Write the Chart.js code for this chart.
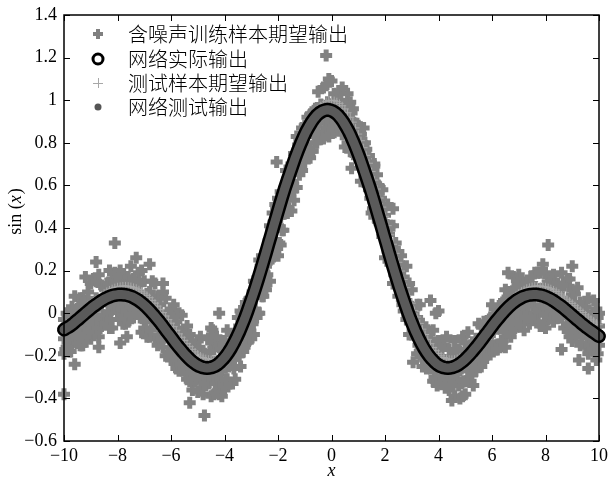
<!DOCTYPE html>
<html>
<head>
<meta charset="utf-8">
<script src="https://cdn.jsdelivr.net/npm/chart.js@4.4.1/dist/chart.umd.min.js"></script>
<style>
  html, body { margin: 0; padding: 0; background: #fff; }
</style>
</head>
<body>
<canvas id="myChart" width="610" height="481"></canvas>
<script>
// series labels (legend order)
const seriesLabels = ['含噪声训练样本期望输出', '网络实际输出', '测试样本期望输出', '网络测试输出'];

// tick values
const xTicks = [-10, -8, -6, -4, -2, 0, 2, 4, 6, 8, 10];
const yTicks = [-0.6, -0.4, -0.2, 0, 0.2, 0.4, 0.6, 0.8, 1, 1.2, 1.4];

// sample inputs, step 0.1
const xs = [
  -10,-9.9,-9.8,-9.7,-9.6,-9.5,-9.4,-9.3,-9.2,-9.1,
  -9,-8.9,-8.8,-8.7,-8.6,-8.5,-8.4,-8.3,-8.2,-8.1,
  -8,-7.9,-7.8,-7.7,-7.6,-7.5,-7.4,-7.3,-7.2,-7.1,
  -7,-6.9,-6.8,-6.7,-6.6,-6.5,-6.4,-6.3,-6.2,-6.1,
  -6,-5.9,-5.8,-5.7,-5.6,-5.5,-5.4,-5.3,-5.2,-5.1,
  -5,-4.9,-4.8,-4.7,-4.6,-4.5,-4.4,-4.3,-4.2,-4.1,
  -4,-3.9,-3.8,-3.7,-3.6,-3.5,-3.4,-3.3,-3.2,-3.1,
  -3,-2.9,-2.8,-2.7,-2.6,-2.5,-2.4,-2.3,-2.2,-2.1,
  -2,-1.9,-1.8,-1.7,-1.6,-1.5,-1.4,-1.3,-1.2,-1.1,
  -1,-0.9,-0.8,-0.7,-0.6,-0.5,-0.4,-0.3,-0.2,-0.1,
  0,
  0.1,0.2,0.3,0.4,0.5,0.6,0.7,0.8,0.9,1,
  1.1,1.2,1.3,1.4,1.5,1.6,1.7,1.8,1.9,2,
  2.1,2.2,2.3,2.4,2.5,2.6,2.7,2.8,2.9,3,
  3.1,3.2,3.3,3.4,3.5,3.6,3.7,3.8,3.9,4,
  4.1,4.2,4.3,4.4,4.5,4.6,4.7,4.8,4.9,5,
  5.1,5.2,5.3,5.4,5.5,5.6,5.7,5.8,5.9,6,
  6.1,6.2,6.3,6.4,6.5,6.6,6.7,6.8,6.9,7,
  7.1,7.2,7.3,7.4,7.5,7.6,7.7,7.8,7.9,8,
  8.1,8.2,8.3,8.4,8.5,8.6,8.7,8.8,8.9,9,
  9.1,9.2,9.3,9.4,9.5,9.6,9.7,9.8,9.9,10
];

// noisy training targets (three samples per input)
const trainHi = [
  -0.03,0.00,-0.02,0.03,0.08,0.02,0.07,0.07,0.06,0.10,
  0.14,0.16,0.15,0.18,0.13,0.12,0.14,0.20,0.16,0.19,
  0.15,0.20,0.18,0.17,0.17,0.22,0.16,0.15,0.19,0.20,
  0.15,0.09,0.10,0.15,0.14,0.08,0.04,0.10,0.07,-0.01,
  0.02,0.04,-0.04,0.00,-0.01,-0.09,-0.06,-0.10,-0.15,-0.17,
  -0.13,-0.11,-0.18,-0.20,-0.12,-0.14,-0.17,-0.11,-0.16,-0.15,
  -0.13,-0.08,-0.13,-0.10,-0.11,-0.02,0.01,-0.03,0.05,0.06,
  0.06,0.15,0.15,0.25,0.27,0.27,0.29,0.41,0.47,0.51,
  0.54,0.57,0.57,0.67,0.63,0.70,0.75,0.83,0.81,0.87,
  0.88,0.92,0.93,0.94,0.96,1.04,0.98,1.06,1.07,1.10,
  1.09,1.03,1.01,1.04,1.06,0.97,1.03,0.99,0.96,0.89,
  0.88,0.84,0.87,0.77,0.74,0.67,0.69,0.65,0.59,0.58,
  0.46,0.51,0.41,0.41,0.33,0.29,0.27,0.17,0.22,0.14,
  0.11,0.02,0.04,0.04,-0.05,-0.07,-0.08,-0.12,-0.08,-0.15,
  -0.13,-0.16,-0.15,-0.11,-0.17,-0.21,-0.13,-0.19,-0.18,-0.11,
  -0.14,-0.09,-0.15,-0.14,-0.12,-0.05,-0.06,-0.04,-0.07,-0.03,
  0.04,0.02,0.01,0.01,0.05,0.11,0.06,0.08,0.17,0.12,
  0.18,0.16,0.14,0.14,0.14,0.14,0.19,0.19,0.19,0.23,
  0.19,0.17,0.16,0.18,0.13,0.12,0.19,0.13,0.16,0.16,
  0.11,0.09,0.12,0.05,0.01,0.03,0.07,-0.01,0.06,0.02,
  0.00
];
const trainMid = [
  -0.12,-0.06,-0.12,-0.05,-0.10,-0.02,-0.08,-0.01,-0.06,0.00,
  0.00,-0.03,0.07,0.04,0.04,0.07,0.07,0.06,0.08,0.06,
  0.12,0.11,0.05,0.06,0.09,0.06,0.11,0.09,0.06,0.08,
  0.03,0.02,0.05,0.02,-0.04,-0.04,-0.05,-0.05,-0.08,-0.05,
  -0.09,-0.13,-0.08,-0.19,-0.14,-0.19,-0.23,-0.25,-0.26,-0.23,
  -0.28,-0.25,-0.28,-0.25,-0.31,-0.28,-0.28,-0.30,-0.27,-0.27,
  -0.25,-0.20,-0.23,-0.21,-0.14,-0.14,-0.08,-0.12,-0.08,-0.05,
  0.02,0.08,0.09,0.11,0.17,0.19,0.24,0.25,0.32,0.32,
  0.41,0.45,0.47,0.57,0.59,0.58,0.68,0.73,0.71,0.73,
  0.79,0.85,0.85,0.91,0.88,0.90,0.93,0.97,0.92,0.96,
  0.98,0.93,0.95,0.93,0.91,0.93,0.85,0.91,0.81,0.84,
  0.82,0.81,0.78,0.71,0.70,0.61,0.53,0.49,0.52,0.49,
  0.37,0.40,0.30,0.28,0.27,0.21,0.15,0.07,0.06,0.02,
  0.03,-0.08,-0.02,-0.09,-0.11,-0.15,-0.19,-0.16,-0.25,-0.18,
  -0.19,-0.23,-0.24,-0.25,-0.24,-0.31,-0.27,-0.23,-0.27,-0.20,
  -0.24,-0.27,-0.22,-0.22,-0.17,-0.13,-0.18,-0.13,-0.16,-0.07,
  -0.08,-0.05,-0.04,-0.02,-0.06,-0.03,0.03,-0.01,-0.02,0.04,
  0.06,0.06,0.02,0.12,0.05,0.07,0.10,0.11,0.10,0.10,
  0.04,0.10,0.02,0.03,0.02,0.09,0.02,0.03,0.04,0.05,
  -0.04,-0.01,0.00,-0.04,-0.01,-0.01,-0.03,-0.12,-0.04,-0.06,
  -0.06
];
const trainLo = [
  -0.19,-0.16,-0.18,-0.15,-0.13,-0.14,-0.15,-0.15,-0.10,-0.09,
  -0.12,-0.07,-0.03,-0.11,-0.06,-0.01,-0.04,-0.07,-0.07,0.02,
  0.01,-0.03,-0.05,-0.05,-0.04,0.01,-0.02,0.00,0.01,-0.09,
  -0.07,-0.11,-0.11,-0.04,-0.12,-0.15,-0.13,-0.16,-0.20,-0.19,
  -0.22,-0.17,-0.26,-0.27,-0.26,-0.26,-0.31,-0.32,-0.36,-0.32,
  -0.37,-0.30,-0.38,-0.34,-0.33,-0.39,-0.38,-0.37,-0.38,-0.39,
  -0.36,-0.31,-0.33,-0.33,-0.31,-0.20,-0.25,-0.18,-0.14,-0.13,
  -0.12,-0.10,-0.02,0.00,0.08,0.13,0.18,0.15,0.27,0.28,
  0.27,0.32,0.39,0.48,0.49,0.48,0.53,0.59,0.65,0.67,
  0.71,0.75,0.73,0.76,0.80,0.85,0.82,0.82,0.87,0.83,
  0.87,0.85,0.89,0.88,0.84,0.78,0.80,0.76,0.78,0.74,
  0.74,0.62,0.67,0.62,0.58,0.47,0.45,0.48,0.42,0.36,
  0.26,0.29,0.23,0.14,0.15,0.08,0.10,0.01,-0.03,-0.10,
  -0.10,-0.09,-0.19,-0.18,-0.25,-0.22,-0.23,-0.26,-0.32,-0.32,
  -0.33,-0.31,-0.33,-0.32,-0.36,-0.41,-0.39,-0.31,-0.40,-0.39,
  -0.38,-0.31,-0.32,-0.34,-0.27,-0.24,-0.25,-0.21,-0.21,-0.18,
  -0.17,-0.15,-0.17,-0.16,-0.13,-0.16,-0.07,-0.11,-0.08,-0.02,
  -0.06,-0.05,-0.08,0.00,-0.05,-0.02,-0.02,-0.04,-0.06,-0.06,
  -0.07,-0.03,0.01,-0.04,0.00,-0.02,-0.02,-0.07,-0.05,-0.11,
  -0.13,-0.08,-0.08,-0.15,-0.10,-0.16,-0.19,-0.14,-0.18,-0.22,
  -0.15
];

// more training inputs, between the ones above
const xsMid = [
  -9.95,-9.85,-9.75,-9.65,-9.55,-9.45,-9.35,-9.25,-9.15,-9.05,
  -8.95,-8.85,-8.75,-8.65,-8.55,-8.45,-8.35,-8.25,-8.15,-8.05,
  -7.95,-7.85,-7.75,-7.65,-7.55,-7.45,-7.35,-7.25,-7.15,-7.05,
  -6.95,-6.85,-6.75,-6.65,-6.55,-6.45,-6.35,-6.25,-6.15,-6.05,
  -5.95,-5.85,-5.75,-5.65,-5.55,-5.45,-5.35,-5.25,-5.15,-5.05,
  -4.95,-4.85,-4.75,-4.65,-4.55,-4.45,-4.35,-4.25,-4.15,-4.05,
  -3.95,-3.85,-3.75,-3.65,-3.55,-3.45,-3.35,-3.25,-3.15,-3.05,
  -2.95,-2.85,-2.75,-2.65,-2.55,-2.45,-2.35,-2.25,-2.15,-2.05,
  -1.95,-1.85,-1.75,-1.65,-1.55,-1.45,-1.35,-1.25,-1.15,-1.05,
  -0.95,-0.85,-0.75,-0.65,-0.55,-0.45,-0.35,-0.25,-0.15,-0.05,
  0.05,0.15,0.25,0.35,0.45,0.55,0.65,0.75,0.85,0.95,
  1.05,1.15,1.25,1.35,1.45,1.55,1.65,1.75,1.85,1.95,
  2.05,2.15,2.25,2.35,2.45,2.55,2.65,2.75,2.85,2.95,
  3.05,3.15,3.25,3.35,3.45,3.55,3.65,3.75,3.85,3.95,
  4.05,4.15,4.25,4.35,4.45,4.55,4.65,4.75,4.85,4.95,
  5.05,5.15,5.25,5.35,5.45,5.55,5.65,5.75,5.85,5.95,
  6.05,6.15,6.25,6.35,6.45,6.55,6.65,6.75,6.85,6.95,
  7.05,7.15,7.25,7.35,7.45,7.55,7.65,7.75,7.85,7.95,
  8.05,8.15,8.25,8.35,8.45,8.55,8.65,8.75,8.85,8.95,
  9.05,9.15,9.25,9.35,9.45,9.55,9.65,9.75,9.85,9.95
];
const trainUp2 = [
  -0.08,-0.04,-0.02,0.01,-0.03,0.03,-0.04,0.05,0.00,0.03,
  0.03,0.02,0.03,0.05,0.06,0.11,0.05,0.12,0.10,0.14,
  0.09,0.13,0.13,0.11,0.14,0.12,0.15,0.10,0.14,0.08,
  0.04,0.04,0.08,0.06,0.02,0.00,-0.04,-0.01,0.00,-0.08,
  -0.02,-0.08,-0.07,-0.12,-0.11,-0.18,-0.12,-0.13,-0.17,-0.23,
  -0.16,-0.23,-0.19,-0.26,-0.18,-0.23,-0.23,-0.25,-0.17,-0.22,
  -0.24,-0.20,-0.20,-0.13,-0.12,-0.06,-0.12,-0.03,0.00,0.07,
  0.10,0.08,0.09,0.22,0.18,0.22,0.34,0.39,0.43,0.44,
  0.45,0.56,0.52,0.63,0.67,0.68,0.70,0.79,0.76,0.81,
  0.83,0.88,0.88,0.95,0.95,0.93,0.97,0.96,0.99,0.98,
  0.97,0.99,0.97,1.00,0.95,0.98,0.93,0.94,0.89,0.89,
  0.82,0.80,0.80,0.70,0.65,0.68,0.61,0.60,0.54,0.43,
  0.38,0.37,0.30,0.25,0.26,0.21,0.22,0.09,0.10,0.02,
  -0.02,-0.05,-0.09,-0.08,-0.07,-0.11,-0.16,-0.19,-0.21,-0.16,
  -0.17,-0.23,-0.22,-0.23,-0.23,-0.19,-0.20,-0.17,-0.26,-0.20,
  -0.18,-0.21,-0.16,-0.17,-0.14,-0.16,-0.12,-0.07,-0.11,-0.02,
  -0.09,-0.01,0.01,0.02,0.06,-0.01,0.10,0.09,0.09,0.13,
  0.09,0.10,0.08,0.14,0.17,0.11,0.10,0.08,0.10,0.13,
  0.08,0.14,0.15,0.14,0.14,0.12,0.13,0.04,0.07,0.04,
  0.02,0.03,-0.03,0.03,0.00,0.00,-0.05,-0.05,-0.01,-0.02
];
const trainDn2 = [
  -0.17,-0.12,-0.18,-0.09,-0.11,-0.10,-0.15,-0.13,-0.11,-0.09,
  -0.05,-0.09,-0.07,-0.07,-0.01,-0.05,0.00,-0.03,0.03,0.06,
  0.02,0.02,-0.01,0.01,-0.01,0.03,0.02,0.02,-0.02,-0.02,
  -0.04,-0.02,-0.08,-0.02,-0.03,-0.11,-0.12,-0.09,-0.08,-0.13,
  -0.12,-0.22,-0.16,-0.24,-0.27,-0.28,-0.21,-0.28,-0.31,-0.31,
  -0.28,-0.35,-0.33,-0.30,-0.29,-0.31,-0.33,-0.31,-0.31,-0.34,
  -0.31,-0.25,-0.23,-0.26,-0.17,-0.20,-0.15,-0.16,-0.07,-0.07,
  -0.05,0.02,0.00,0.11,0.08,0.11,0.24,0.27,0.29,0.33,
  0.33,0.39,0.50,0.47,0.56,0.62,0.59,0.68,0.74,0.73,
  0.79,0.75,0.76,0.84,0.80,0.90,0.91,0.90,0.87,0.90,
  0.86,0.90,0.86,0.87,0.87,0.89,0.79,0.77,0.83,0.73,
  0.72,0.71,0.62,0.60,0.54,0.49,0.53,0.43,0.41,0.40,
  0.36,0.31,0.23,0.18,0.17,0.13,0.04,0.02,0.02,-0.01,
  -0.05,-0.10,-0.15,-0.16,-0.21,-0.26,-0.22,-0.22,-0.30,-0.34,
  -0.29,-0.28,-0.35,-0.28,-0.28,-0.34,-0.28,-0.34,-0.33,-0.32,
  -0.32,-0.26,-0.29,-0.24,-0.25,-0.22,-0.21,-0.18,-0.16,-0.15,
  -0.18,-0.17,-0.07,-0.13,-0.09,-0.07,-0.09,-0.04,-0.07,0.00,
  -0.05,0.00,-0.02,0.04,-0.02,0.07,0.02,0.01,0.04,-0.01,
  0.03,0.04,0.03,-0.01,-0.02,0.02,0.00,0.01,-0.08,-0.09,
  -0.03,-0.11,-0.06,-0.14,-0.07,-0.10,-0.15,-0.17,-0.19,-0.19
];

// scattered training samples far from the curve
const outX = [-10, -8.1, -7.3, -6.8, -8.8, -8.7, -7.9, -7.65, -4.2, -4.5, -4.75, -5.3, -0.2, -2.05, 0.75, 1.6, 2.3, 3.9, 3.05, 8.1, 6.6, 9.6, 9.25, 3.7, 4.0, -4.45, -9.6, -9.2, -6.3, 9.0, 8.6];
const outY = [-0.38, 0.33, 0.26, 0.23, 0.24, -0.16, -0.14, -0.11, 0.0, -0.07, -0.48, -0.42, 1.21, 0.71, 0.68, 0.70, 0.49, 0.0, -0.23, 0.32, 0.19, -0.26, -0.22, 0.06, 0.01, -0.08, -0.24, 0.17, 0.14, 0.22, -0.17];

// clean test targets at xs
const testY = [
  -0.054,-0.046,-0.037,-0.028,-0.018,-0.008,0.003,0.013,0.024,0.035,
  0.046,0.056,0.066,0.076,0.085,0.094,0.102,0.109,0.115,0.120,
  0.124,0.126,0.128,0.128,0.127,0.125,0.121,0.117,0.110,0.103,
  0.094,0.084,0.073,0.060,0.047,0.033,0.018,0.003,-0.013,-0.030,
  -0.047,-0.063,-0.080,-0.097,-0.113,-0.128,-0.143,-0.157,-0.170,-0.182,
  -0.192,-0.201,-0.208,-0.213,-0.216,-0.217,-0.216,-0.213,-0.208,-0.200,
  -0.189,-0.176,-0.161,-0.143,-0.123,-0.100,-0.075,-0.048,-0.018,0.013,
  0.047,0.083,0.120,0.158,0.198,0.239,0.281,0.324,0.368,0.411,
  0.455,0.498,0.541,0.583,0.625,0.665,0.704,0.741,0.777,0.810,
  0.841,0.870,0.897,0.920,0.941,0.959,0.974,0.985,0.993,0.998,
  1.000,
  0.998,0.993,0.985,0.974,0.959,0.941,0.920,0.897,0.870,0.841,
  0.810,0.777,0.741,0.704,0.665,0.625,0.583,0.541,0.498,0.455,
  0.411,0.368,0.324,0.281,0.239,0.198,0.158,0.120,0.083,0.047,
  0.013,-0.018,-0.048,-0.075,-0.100,-0.123,-0.143,-0.161,-0.176,-0.189,
  -0.200,-0.208,-0.213,-0.216,-0.217,-0.216,-0.213,-0.208,-0.201,-0.192,
  -0.182,-0.170,-0.157,-0.143,-0.128,-0.113,-0.097,-0.080,-0.063,-0.047,
  -0.030,-0.013,0.003,0.018,0.033,0.047,0.060,0.073,0.084,0.094,
  0.103,0.110,0.117,0.121,0.125,0.127,0.128,0.128,0.126,0.124,
  0.120,0.115,0.109,0.102,0.094,0.085,0.076,0.066,0.056,0.046,
  0.035,0.024,0.013,0.003,-0.008,-0.018,-0.028,-0.037,-0.046,-0.054
];

// network output
const netX = [
  -10,-9.95,-9.85,-9.75,-9.65,-9.55,-9.45,-9.35,-9.25,-9.15,
  -9.05,-8.95,-8.85,-8.75,-8.65,-8.55,-8.45,-8.35,-8.25,-8.15,
  -8.05,-7.95,-7.85,-7.75,-7.65,-7.55,-7.45,-7.35,-7.25,-7.15,
  -7.05,-6.95,-6.85,-6.75,-6.65,-6.55,-6.45,-6.35,-6.25,-6.15,
  -6.05,-5.95,-5.85,-5.75,-5.65,-5.55,-5.45,-5.35,-5.25,-5.15,
  -5.05,-4.95,-4.85,-4.75,-4.65,-4.55,-4.45,-4.35,-4.25,-4.15,
  -4.05,-3.95,-3.85,-3.75,-3.65,-3.55,-3.45,-3.35,-3.25,-3.15,
  -3.05,-2.95,-2.85,-2.75,-2.65,-2.55,-2.45,-2.35,-2.25,-2.15,
  -2.05,-1.95,-1.85,-1.75,-1.65,-1.55,-1.45,-1.35,-1.25,-1.15,
  -1.05,-0.95,-0.85,-0.75,-0.65,-0.55,-0.45,-0.35,-0.25,-0.15,
  -0.05,0.05,0.15,0.25,0.35,0.45,0.55,0.65,0.75,0.85,
  0.95,1.05,1.15,1.25,1.35,1.45,1.55,1.65,1.75,1.85,
  1.95,2.05,2.15,2.25,2.35,2.45,2.55,2.65,2.75,2.85,
  2.95,3.05,3.15,3.25,3.35,3.45,3.55,3.65,3.75,3.85,
  3.95,4.05,4.15,4.25,4.35,4.45,4.55,4.65,4.75,4.85,
  4.95,5.05,5.15,5.25,5.35,5.45,5.55,5.65,5.75,5.85,
  5.95,6.05,6.15,6.25,6.35,6.45,6.55,6.65,6.75,6.85,
  6.95,7.05,7.15,7.25,7.35,7.45,7.55,7.65,7.75,7.85,
  7.95,8.05,8.15,8.25,8.35,8.45,8.55,8.65,8.75,8.85,
  8.95,9.05,9.15,9.25,9.35,9.45,9.55,9.65,9.75,9.85,
  9.95,10
];
const netY = [
  -0.077,-0.073,-0.066,-0.058,-0.048,-0.037,-0.027,-0.016,-0.005,0.006,
  0.016,0.027,0.036,0.045,0.054,0.062,0.069,0.075,0.080,0.084,
  0.086,0.088,0.088,0.087,0.085,0.081,0.077,0.070,0.063,0.054,
  0.044,0.033,0.020,0.007,-0.007,-0.022,-0.037,-0.053,-0.070,-0.087,
  -0.103,-0.120,-0.137,-0.153,-0.168,-0.183,-0.197,-0.210,-0.222,-0.232,
  -0.241,-0.248,-0.253,-0.256,-0.257,-0.256,-0.253,-0.248,-0.240,-0.229,
  -0.216,-0.201,-0.183,-0.163,-0.140,-0.115,-0.088,-0.058,-0.027,0.007,
  0.043,0.080,0.118,0.158,0.199,0.241,0.284,0.328,0.371,0.415,
  0.458,0.501,0.543,0.584,0.622,0.659,0.696,0.732,0.765,0.796,
  0.825,0.852,0.875,0.896,0.914,0.929,0.940,0.948,0.953,0.955,
  0.953,0.948,0.940,0.929,0.914,0.896,0.875,0.852,0.825,0.796,
  0.765,0.732,0.696,0.659,0.622,0.584,0.543,0.501,0.458,0.415,
  0.371,0.328,0.284,0.241,0.199,0.158,0.118,0.080,0.043,0.007,
  -0.027,-0.058,-0.088,-0.115,-0.140,-0.163,-0.183,-0.201,-0.216,-0.229,
  -0.240,-0.248,-0.253,-0.256,-0.257,-0.256,-0.253,-0.248,-0.241,-0.232,
  -0.222,-0.210,-0.197,-0.183,-0.168,-0.153,-0.137,-0.120,-0.103,-0.087,
  -0.070,-0.053,-0.037,-0.022,-0.007,0.007,0.020,0.033,0.044,0.054,
  0.063,0.070,0.077,0.081,0.085,0.087,0.088,0.088,0.086,0.084,
  0.080,0.075,0.069,0.062,0.054,0.045,0.036,0.027,0.016,0.006,
  -0.005,-0.016,-0.027,-0.037,-0.048,-0.058,-0.068,-0.077,-0.086,-0.095,
  -0.104,-0.108
];

const pts = (xa, ya) => xa.map((x, i) => ({ x: x, y: ya[i] }));
const minus = s => String(s).replace('-', '\u2212');
const serif = '"Liberation Serif", "Times New Roman", serif';

const trainData = pts(xs, trainHi).concat(
  pts(xs, trainMid), pts(xs, trainLo),
  pts(xsMid, trainUp2), pts(xsMid, trainDn2),
  pts(outX, outY)
);

// legend, box, inward ticks, tick labels and axis titles
const decor = {
  id: 'decor',
  afterDraw(chart) {
    const c = chart.ctx;
    const a = chart.chartArea;
    const sx = chart.scales.x, sy = chart.scales.y;
    c.save();
    c.strokeStyle = '#000';
    c.lineWidth = 1.5;
    c.strokeRect(a.left, a.top, a.right - a.left, a.bottom - a.top);
    c.beginPath();
    xTicks.forEach(v => {
      const px = Math.round(sx.getPixelForValue(v)) + 0.5;
      c.moveTo(px, a.bottom); c.lineTo(px, a.bottom - 6);
      c.moveTo(px, a.top); c.lineTo(px, a.top + 6);
    });
    yTicks.forEach(v => {
      const py = Math.round(sy.getPixelForValue(v)) + 0.5;
      c.moveTo(a.left, py); c.lineTo(a.left + 6, py);
      c.moveTo(a.right, py); c.lineTo(a.right - 6, py);
    });
    c.lineWidth = 1;
    c.stroke();

    // tick labels
    c.fillStyle = '#000';
    c.font = '18px ' + serif;
    c.textBaseline = 'middle';
    c.textAlign = 'center';
    xTicks.forEach(v => c.fillText(minus(v), sx.getPixelForValue(v), 456));
    c.textAlign = 'right';
    yTicks.forEach(v => c.fillText(minus(Number(v.toFixed(1))), a.left - 7, sy.getPixelForValue(v)));

    // axis titles
    c.font = 'italic 18px ' + serif;
    c.textAlign = 'center';
    c.fillText('x', (a.left + a.right) / 2, 471);

    c.save();
    c.translate(16, 212);
    c.rotate(-Math.PI / 2);
    c.textAlign = 'left';
    const n1 = '18px ' + serif, n2 = 'italic 18px ' + serif;
    c.font = n1; const w1 = c.measureText('sin (').width;
    c.font = n2; const w2 = c.measureText('x').width;
    c.font = n1; const w3 = c.measureText(')').width;
    let tx = -(w1 + w2 + w3) / 2;
    c.font = n1; c.fillText('sin (', tx, 0); tx += w1;
    c.font = n2; c.fillText('x', tx, 0); tx += w2 + 1;
    c.font = n1; c.fillText(')', tx, 0);
    c.restore();

    // legend
    const rows = [34, 59, 83, 107];
    const mx = 98;
    c.font = '300 20px "Noto Sans CJK SC"';
    c.textAlign = 'left';
    seriesLabels.forEach((t, i) => {
      const y = rows[i];
      c.beginPath();
      if (i === 0) {
        c.strokeStyle = '#808080'; c.lineWidth = 4;
        c.moveTo(mx - 5, y); c.lineTo(mx + 5, y);
        c.moveTo(mx, y - 5); c.lineTo(mx, y + 5);
        c.stroke();
      } else if (i === 1) {
        c.strokeStyle = '#000'; c.lineWidth = 3;
        c.arc(mx, y, 5, 0, Math.PI * 2);
        c.stroke();
      } else if (i === 2) {
        c.strokeStyle = '#a8a8a8'; c.lineWidth = 1;
        c.moveTo(mx - 5, y + 0.5); c.lineTo(mx + 5, y + 0.5);
        c.moveTo(mx + 0.5, y - 5); c.lineTo(mx + 0.5, y + 5);
        c.stroke();
      } else {
        c.fillStyle = '#555';
        c.arc(mx, y, 3.5, 0, Math.PI * 2);
        c.fill();
      }
      c.fillStyle = '#000';
      c.fillText(t, 128, y);
    });
    c.restore();
  }
};

const ctx = document.getElementById('myChart').getContext('2d');
new Chart(ctx, {
  type: 'scatter',
  data: {
    datasets: [
      {
        label: seriesLabels[0],
        data: trainData,
        pointStyle: 'cross',
        pointRadius: 6,
        pointBorderWidth: 5,
        borderColor: '#828282',
        backgroundColor: '#828282',
        clip: false,
        order: 4
      },
      {
        label: seriesLabels[1],
        data: pts(netX, netY),
        showLine: true,
        borderColor: '#000',
        borderWidth: 14,
        borderCapStyle: 'round',
        borderJoinStyle: 'round',
        pointRadius: 0,
        clip: false,
        order: 2
      },
      {
        label: seriesLabels[2],
        data: pts(xs, testY),
        pointStyle: 'cross',
        pointRadius: 4,
        pointBorderWidth: 1,
        borderColor: '#a8a8a8',
        clip: false,
        order: 3
      },
      {
        label: seriesLabels[3],
        data: pts(netX, netY),
        showLine: true,
        borderColor: '#5a5a5a',
        borderWidth: 9,
        borderCapStyle: 'round',
        borderJoinStyle: 'round',
        pointRadius: 0,
        clip: false,
        order: 1
      }
    ]
  },
  options: {
    responsive: false,
    animation: false,
    layout: { padding: { top: 15, right: 7, left: 0, bottom: 0 } },
    plugins: { legend: { display: false }, tooltip: { enabled: false } },
    scales: {
      x: {
        type: 'linear',
        min: -10, max: 10,
        afterBuildTicks: s => { s.ticks = xTicks.map(v => ({ value: v })); },
        afterFit: s => { s.height = 40; },
        grid: { display: false, drawTicks: false },
        border: { display: false },
        ticks: { display: false }
      },
      y: {
        min: -0.6, max: 1.4,
        afterBuildTicks: s => { s.ticks = yTicks.map(v => ({ value: v })); },
        afterFit: s => { s.width = 64; },
        grid: { display: false, drawTicks: false },
        border: { display: false },
        ticks: { display: false }
      }
    }
  },
  plugins: [decor]
});
</script>
</body>
</html>
